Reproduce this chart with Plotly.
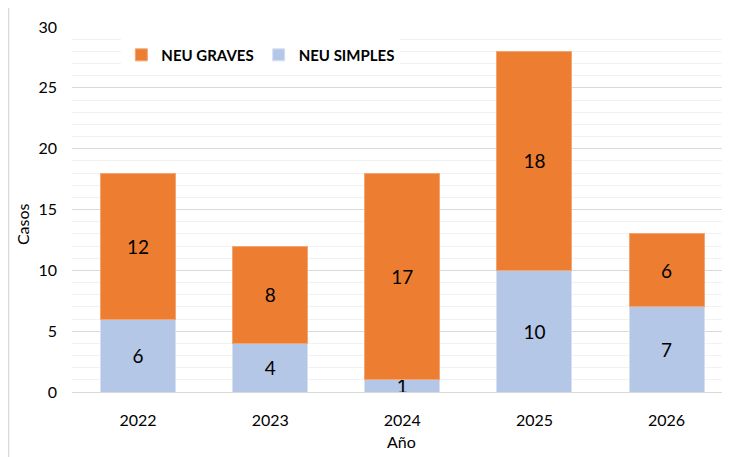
import plotly.graph_objects as go

years = ["2022", "2023", "2024", "2025", "2026"]
simples = [6, 4, 1, 10, 7]
graves = [12, 8, 17, 18, 6]

FONT = "Lato, Liberation Sans, Arial"

fig = go.Figure()
fig.add_trace(go.Bar(
    x=years, y=simples, name="NEU SIMPLES",
    marker=dict(color="#B4C7E7", line=dict(color="#D6E0F2", width=1)),
    text=simples, textposition="inside", insidetextanchor="middle",
    constraintext="none", textangle=0,
    textfont=dict(size=19, color="#000000", family=FONT),
))
fig.add_trace(go.Bar(
    x=years, y=graves, name="NEU GRAVES",
    marker=dict(color="#ED7D31", line=dict(color="#F4A574", width=1)),
    text=graves, textposition="inside", insidetextanchor="middle",
    constraintext="none", textangle=0,
    textfont=dict(size=19, color="#000000", family=FONT),
))

# page has an 8px body margin: figure is sized/positioned to compensate
fig.update_layout(
    barmode="stack",
    bargap=0.432,
    width=722, height=449,
    margin=dict(l=64, r=0, t=19, b=65, autoexpand=False),
    paper_bgcolor="white",
    plot_bgcolor="white",
    font=dict(family=FONT, color="#000000"),
    legend=dict(
        orientation="h", traceorder="reversed",
        x=0.075, y=0.923, xanchor="left", yanchor="middle",
        font=dict(size=15, family=FONT, color="#000000", weight="bold"),
        bgcolor="rgba(255,255,255,1)",
        itemwidth=30, tracegroupgap=0,
    ),
    xaxis=dict(
        tickfont=dict(size=16, family=FONT),
        showline=True, linecolor="#D9D9D9", linewidth=1,
        ticks="", showgrid=False, automargin=False,
        ticklabelstandoff=14,
        range=[-0.5, 4.48],
    ),
    yaxis=dict(
        tickfont=dict(size=16, family=FONT),
        range=[0, 30], dtick=5, tick0=0,
        showgrid=True, gridcolor="#D9D9D9", gridwidth=1,
        minor=dict(dtick=1, showgrid=True, gridcolor="#F2F2F2", gridwidth=1),
        zeroline=False, ticks="", automargin=False,
        ticklabelstandoff=14,
    ),
    annotations=[
        dict(text="Casos", textangle=-90, xref="paper", yref="paper",
             x=-50 / 658, y=0.46, xanchor="center", yanchor="middle",
             showarrow=False, font=dict(size=16, family=FONT)),
        dict(text="Año", xref="paper", yref="paper",
             x=0.5, y=-49 / 365, xanchor="center", yanchor="middle",
             showarrow=False, font=dict(size=16, family=FONT)),
    ],
    shapes=[dict(
        type="line", xref="paper", yref="paper",
        x0=-63.5 / 658, x1=-63.5 / 658, y0=-70 / 365, y1=1 + 20 / 365,
        line=dict(color="#D9D9D9", width=1.5),
        layer="below",
    )],
)

fig.write_html("out.html")
